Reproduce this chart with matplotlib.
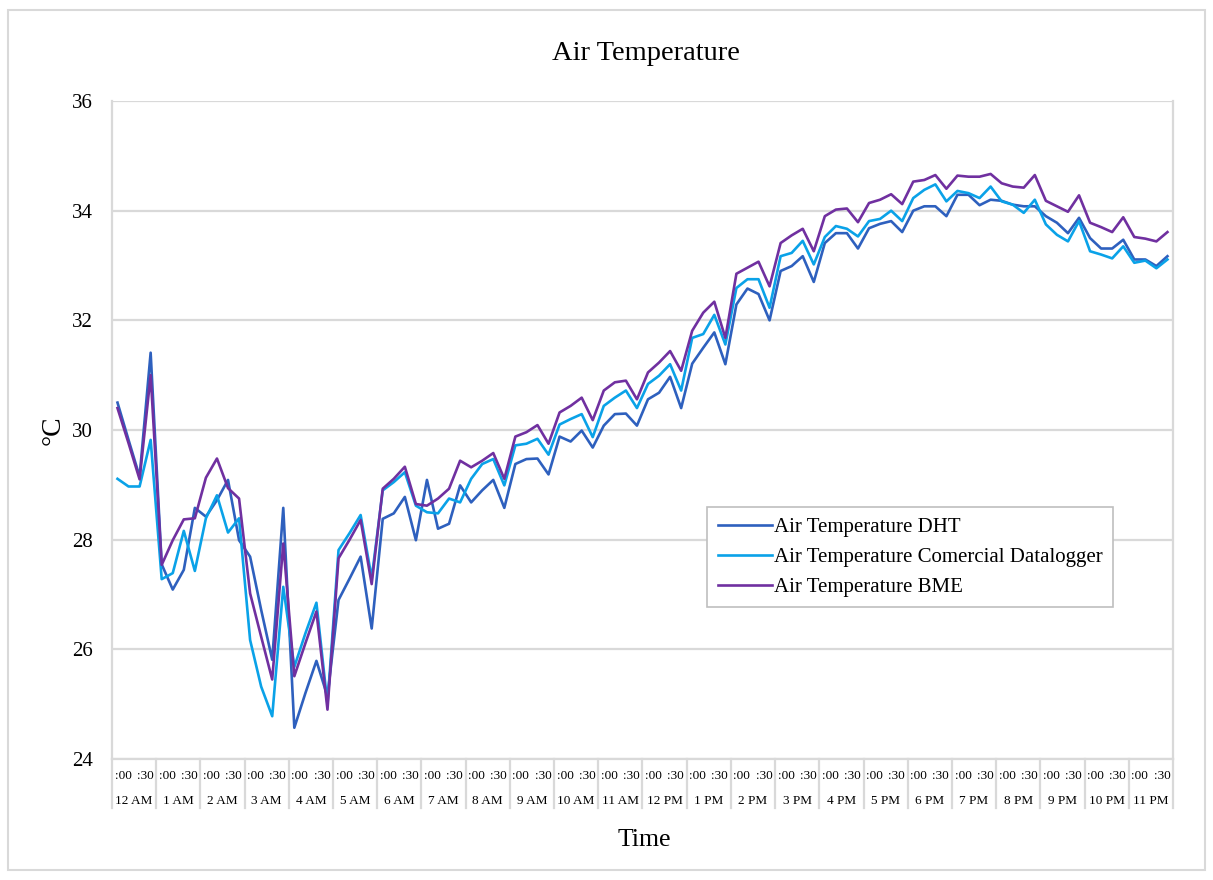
import numpy as np
import matplotlib
matplotlib.use('Agg')
import matplotlib.pyplot as plt
from matplotlib.patches import Rectangle

plt.rcParams['font.family'] = ['Liberation Serif', 'DejaVu Serif']

# readings every 15 minutes over one day (96 points)
dht = [30.50, 29.82, 29.15, 31.41, 27.55, 27.09, 27.45, 28.58, 28.42, 28.72, 29.09, 27.99,
       27.69, 26.72, 25.81, 28.58, 24.57, 25.20, 25.79, 25.14, 26.90, 27.29, 27.69, 26.38,
       28.38, 28.48, 28.78, 27.99, 29.09, 28.20, 28.29, 28.99, 28.68, 28.90, 29.09, 28.58,
       29.38, 29.47, 29.48, 29.19, 29.88, 29.79, 29.99, 29.68, 30.08, 30.29, 30.30, 30.08,
       30.56, 30.68, 30.97, 30.40, 31.21, 31.50, 31.78, 31.20, 32.29, 32.58, 32.48, 32.00,
       32.90, 32.99, 33.17, 32.70, 33.41, 33.59, 33.59, 33.31, 33.68, 33.76, 33.81, 33.61,
       34.00, 34.08, 34.08, 33.90, 34.29, 34.29, 34.10, 34.20, 34.18, 34.11, 34.08, 34.08,
       33.90, 33.78, 33.59, 33.87, 33.50, 33.31, 33.31, 33.47, 33.11, 33.11, 32.99, 33.17]

datalogger = [29.11, 28.97, 28.97, 29.82, 27.28, 27.39, 28.16, 27.43, 28.39, 28.81, 28.13, 28.39,
              26.17, 25.32, 24.78, 27.14, 25.68, 26.29, 26.85, 25.00, 27.81, 28.12, 28.45, 27.30,
              28.90, 29.05, 29.23, 28.62, 28.50, 28.48, 28.75, 28.68, 29.11, 29.38, 29.47, 28.99,
              29.72, 29.75, 29.84, 29.55, 30.10, 30.20, 30.29, 29.87, 30.44, 30.59, 30.72, 30.40,
              30.84, 30.99, 31.20, 30.72, 31.68, 31.75, 32.10, 31.56, 32.59, 32.75, 32.75, 32.23,
              33.17, 33.23, 33.45, 33.02, 33.52, 33.72, 33.67, 33.53, 33.81, 33.85, 34.00, 33.81,
              34.23, 34.38, 34.48, 34.17, 34.36, 34.32, 34.23, 34.44, 34.17, 34.11, 33.96, 34.20,
              33.75, 33.56, 33.44, 33.81, 33.26, 33.20, 33.13, 33.35, 33.05, 33.09, 32.95, 33.11]

bme = [30.40, 29.76, 29.10, 31.00, 27.54, 27.99, 28.37, 28.39, 29.13, 29.48, 28.94, 28.75,
       27.02, 26.23, 25.45, 27.93, 25.51, 26.11, 26.69, 24.90, 27.66, 28.00, 28.36, 27.19,
       28.93, 29.11, 29.33, 28.65, 28.62, 28.75, 28.93, 29.44, 29.32, 29.44, 29.58, 29.11,
       29.88, 29.96, 30.09, 29.75, 30.32, 30.44, 30.59, 30.18, 30.72, 30.87, 30.90, 30.56,
       31.05, 31.23, 31.44, 31.08, 31.81, 32.14, 32.34, 31.68, 32.85, 32.96, 33.07, 32.62,
       33.41, 33.55, 33.67, 33.26, 33.90, 34.02, 34.04, 33.79, 34.14, 34.20, 34.30, 34.12,
       34.53, 34.56, 34.65, 34.40, 34.64, 34.62, 34.62, 34.67, 34.50, 34.44, 34.42, 34.65,
       34.18, 34.08, 33.98, 34.28, 33.78, 33.70, 33.61, 33.88, 33.52, 33.49, 33.44, 33.61]

hours = ['12 AM', '1 AM', '2 AM', '3 AM', '4 AM', '5 AM', '6 AM', '7 AM', '8 AM', '9 AM',
         '10 AM', '11 AM', '12 PM', '1 PM', '2 PM', '3 PM', '4 PM', '5 PM', '6 PM', '7 PM',
         '8 PM', '9 PM', '10 PM', '11 PM']
minutes = [':00', ':30']

x = np.arange(len(dht))

fig = plt.figure(figsize=(12.13, 8.8), dpi=100)
ax = fig.add_axes([0.0923, 0.1375, 0.8747, 0.7477])

ax.plot(x, dht, color='#2E60BE', lw=1.9, label='Air Temperature DHT')
ax.plot(x, datalogger, color='#0AA2E8', lw=1.9, label='Air Temperature Comercial Datalogger')
ax.plot(x, bme, color='#7030A0', lw=1.9, label='Air Temperature BME')

ax.set_xlim(-0.5, len(x) - 0.5)
ax.set_ylim(24, 36)
ax.set_yticks(np.arange(24, 37, 2))
ax.tick_params(axis='y', length=0, labelsize=15, pad=14)
ax.set_xticks([])
ax.grid(axis='y', color='#D9D9D9', lw=1.6)
ax.set_axisbelow(True)
for s in ['left', 'right', 'bottom']:
    ax.spines[s].set_color('#D9D9D9')
    ax.spines[s].set_linewidth(1.6)
ax.spines['top'].set_visible(False)

# two-level category labels under the axis
trans = ax.get_xaxis_transform()
for h, name in enumerate(hours):
    start = h * 4 - 0.5
    ax.plot([start, start], [0, -0.0745], transform=trans, color='#D9D9D9', lw=1.6, clip_on=False)
    for k, m in enumerate(minutes):
        ax.text(start + 1 + 2 * k, -0.026, m, transform=trans, ha='center', va='center', fontsize=9.5)
    ax.text(start + 2, -0.0635, name, transform=trans, ha='center', va='center', fontsize=9.5)
end = len(x) - 0.5
ax.plot([end, end], [0, -0.0745], transform=trans, color='#D9D9D9', lw=1.6, clip_on=False)

ax.set_ylabel('°C', fontsize=20, labelpad=4)
fig.text(0.5315, 0.045, 'Time', ha='center', va='center', fontsize=18.5)
fig.text(0.5325, 0.939, 'Air Temperature', ha='center', va='center', fontsize=20.5)

leg = ax.legend(loc='upper left', bbox_to_anchor=(0.561, 0.383), borderaxespad=0, fontsize=15,
                frameon=True, fancybox=False, edgecolor='#BFBFBF', framealpha=1,
                handlelength=2.6, handletextpad=0.1, borderpad=0.5, labelspacing=0.5)
leg.get_frame().set_linewidth(1.2)

fig.patches.append(Rectangle((0.007, 0.011), 0.986, 0.978, transform=fig.transFigure,
                             fill=False, edgecolor='#D9D9D9', lw=1.5))

fig.savefig('out.png', dpi=100)
